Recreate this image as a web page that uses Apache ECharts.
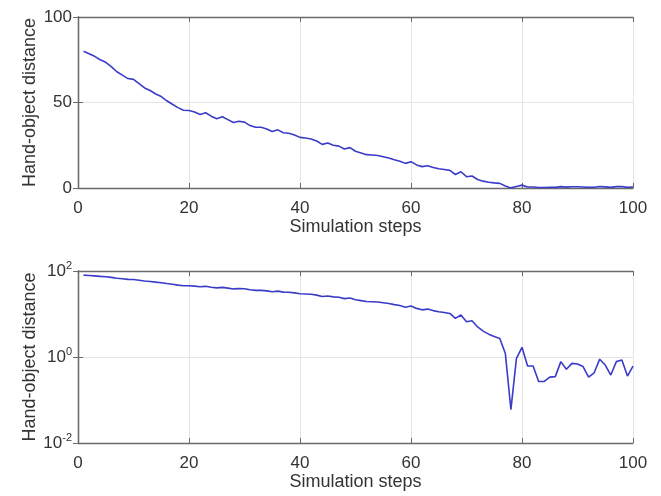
<!DOCTYPE html>
<html>
<head>
<meta charset="utf-8">
<script src="https://cdn.jsdelivr.net/npm/echarts@6/dist/echarts.min.js"></script>
<style>html,body{margin:0;padding:0;background:#fff;}#c{width:661px;height:496px;}</style>
</head>
<body>
<div id="c"></div>
<script>
const steps = Array.from({length: 100}, (_, i) => i + 1);
const distance = [
  80, 78.5, 77, 75, 73.5, 71, 68, 66, 64, 63.5,
  61, 58.5, 57, 55, 53.5, 51, 49, 47, 45.5, 45.3,
  44.5, 43, 44, 42, 40.5, 41.7, 40, 38.3, 39, 38.5,
  36.5, 35.5, 35.5, 34.5, 33, 34, 32.3, 32, 31, 29.6,
  29.2, 28.7, 27.5, 25.5, 26.3, 25, 24.5, 22.8, 23.6, 21.5,
  20.5, 19.5, 19.3, 19, 18.3, 17.5, 16.5, 15.7, 14.4, 15.4,
  13.5, 12.5, 13, 12, 11.3, 10.8, 10.3, 7.9, 9.5, 6.6,
  7, 5, 4, 3.4, 3, 2.7, 1.2, 0.06, 0.93, 1.68,
  0.62, 0.62, 0.27, 0.27, 0.34, 0.35, 0.78, 0.52, 0.71, 0.69,
  0.6, 0.34, 0.43, 0.89, 0.65, 0.38, 0.78, 0.85, 0.36, 0.61
];
const xTicks = [0, 20, 40, 60, 80, 100];
const yTicksLinear = [0, 50, 100];
const yTicksLog = [0.01, 1, 100];
const xTitle = 'Simulation steps';
const yTitle = 'Hand-object distance';

const FONT = 'Liberation Sans, Arial, sans-serif';
const TXT = '#333';
const FRAME = '#6a6a6a';
const GRID = '#e4e4e4';
const LINE = '#3b3bc9';
const TICKSIZE = 17;
const TITLESIZE = 18;

const pts = steps.map((s, i) => [s, distance[i]]);

function xAxes(gi) {
  return [
    {
      gridIndex: gi, type: 'value', min: xTicks[0], max: xTicks[xTicks.length - 1], interval: 20,
      name: xTitle, nameLocation: 'middle', nameGap: 30, nameMoveOverlap: false,
      nameTextStyle: {fontFamily: FONT, fontSize: TITLESIZE, color: TXT},
      axisLine: {show: true, onZero: false, lineStyle: {color: FRAME, width: 1.3}},
      axisTick: {show: true, inside: true, length: 5, lineStyle: {color: FRAME}},
      axisLabel: {fontFamily: FONT, fontSize: TICKSIZE, color: TXT, margin: 12},
      splitLine: {show: true, lineStyle: {color: GRID, width: 1}}
    },
    {
      gridIndex: gi, type: 'value', min: 0, max: 100, interval: 20, position: 'top',
      axisLine: {show: true, onZero: false, lineStyle: {color: FRAME, width: 1.3}},
      axisTick: {show: true, inside: true, length: 5, lineStyle: {color: FRAME}},
      axisLabel: {show: false}, splitLine: {show: false}
    }
  ];
}

const supRich = {
  b: {fontFamily: FONT, fontSize: TICKSIZE, color: TXT},
  s: {fontFamily: FONT, fontSize: 11, color: TXT, padding: [0, 0, 10, 0]}
};

const option = {
  animation: false,
  backgroundColor: '#fff',
  grid: [
    {left: 78, top: 17, width: 555, height: 171},
    {left: 78, top: 271, width: 555, height: 172}
  ],
  xAxis: [...xAxes(0), ...xAxes(1)],
  yAxis: [
    {
      gridIndex: 0, type: 'value', min: yTicksLinear[0], max: yTicksLinear[2], interval: 50,
      name: yTitle, nameLocation: 'middle', nameGap: 39, nameMoveOverlap: false,
      nameTextStyle: {fontFamily: FONT, fontSize: TITLESIZE, color: TXT},
      axisLine: {show: true, lineStyle: {color: FRAME, width: 1.3}},
      axisTick: {show: true, inside: true, length: 5, lineStyle: {color: FRAME}},
      axisLabel: {fontFamily: FONT, fontSize: TICKSIZE, color: TXT, margin: 6},
      splitLine: {show: true, lineStyle: {color: GRID, width: 1}}
    },
    {
      gridIndex: 0, type: 'value', min: 0, max: 100, interval: 50, position: 'right',
      axisLine: {show: true, lineStyle: {color: FRAME, width: 1.3}},
      axisTick: {show: true, inside: true, length: 5, lineStyle: {color: FRAME}},
      axisLabel: {show: false}, splitLine: {show: false}
    },
    {
      gridIndex: 1, type: 'log', logBase: 10, min: yTicksLog[0], max: yTicksLog[2], interval: 2,
      name: yTitle, nameLocation: 'middle', nameGap: 39, nameMoveOverlap: false,
      nameTextStyle: {fontFamily: FONT, fontSize: TITLESIZE, color: TXT},
      axisLine: {show: true, lineStyle: {color: FRAME, width: 1.3}},
      axisTick: {show: true, inside: true, length: 5, lineStyle: {color: FRAME}},
      axisLabel: {
        fontFamily: FONT, fontSize: TICKSIZE, color: TXT, margin: 6,
        formatter: v => '{b|10}{s|' + Math.round(Math.log10(v)) + '}',
        rich: supRich
      },
      splitLine: {show: true, lineStyle: {color: GRID, width: 1}}
    },
    {
      gridIndex: 1, type: 'log', logBase: 10, min: 0.01, max: 100, interval: 2, position: 'right',
      axisLine: {show: true, lineStyle: {color: FRAME, width: 1.3}},
      axisTick: {show: true, inside: true, length: 5, lineStyle: {color: FRAME}},
      axisLabel: {show: false}, splitLine: {show: false}
    }
  ],
  series: [
    {type: 'line', xAxisIndex: 0, yAxisIndex: 0, data: pts, showSymbol: false,
     lineStyle: {color: LINE, width: 1.6}, itemStyle: {color: LINE}},
    {type: 'line', xAxisIndex: 2, yAxisIndex: 2, data: pts, showSymbol: false,
     lineStyle: {color: LINE, width: 1.6}, itemStyle: {color: LINE}}
  ]
};

const chart = echarts.init(document.getElementById('c'), null, {renderer: 'canvas'});
chart.setOption(option);
</script>
</body>
</html>
